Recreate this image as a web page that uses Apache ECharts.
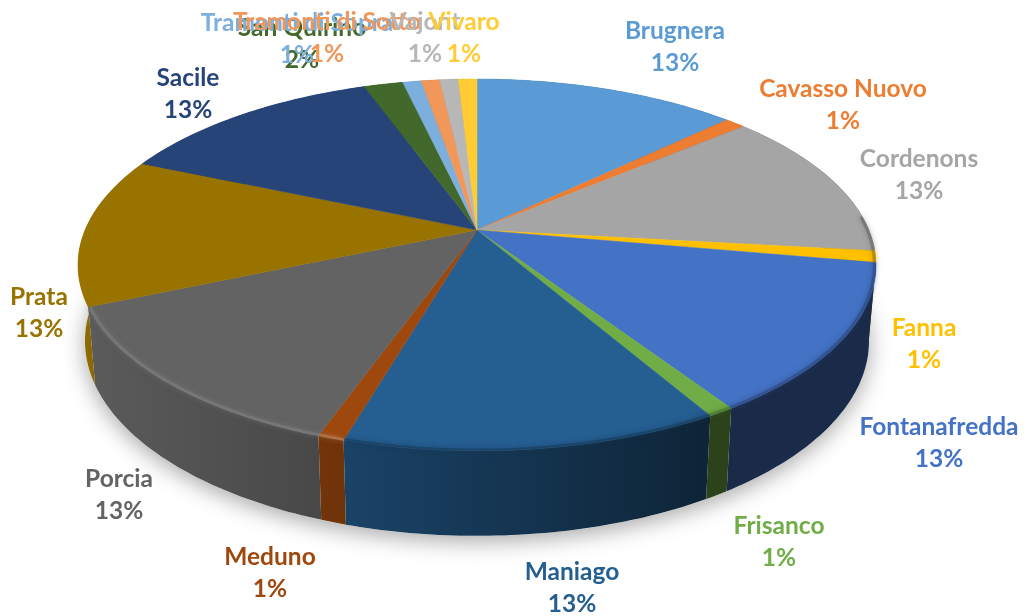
<!DOCTYPE html>
<html>
<head>
<meta charset="utf-8">
<style>
  html, body { margin: 0; padding: 0; background: #fff; }
  #chart { width: 1027px; height: 616px; }
</style>
<script src="https://cdn.jsdelivr.net/npm/echarts@6/dist/echarts.min.js"></script>
</head>
<body>
<div id="chart"></div>
<script>
const names = ['Brugnera', 'Cavasso Nuovo', 'Cordenons', 'Fanna', 'Fontanafredda', 'Frisanco', 'Maniago', 'Meduno',
  'Porcia', 'Prata', 'Sacile', 'San Quirino', 'Tramonti di Sopra', 'Tramonti di Sotto', 'Vajont', 'Vivaro'];
const shares = [12.8, 1, 13, 1, 13, 0.9, 12.8, 0.9, 13.1, 13, 13, 1.9, 0.9, 0.9, 0.9, 0.9];
const colors = ['#5B9BD5', '#ED7D31', '#A5A5A5', '#FFC000', '#4472C4', '#70AD47', '#255E91', '#9E480E',
  '#636363', '#997300', '#264478', '#43682B', '#7CAFDD', '#F1975A', '#B7B7B7', '#FFCD33'];

// label centres, they sit where the original put them (overlaps included)
const labelSpots = [[675, 47], [843, 105], [919, 175], [924, 344], [939, 443], [779, 542], [572, 588], [270, 573],
  [119, 495], [39, 313], [188, 94], [302, 44], [297, 39], [327, 38], [425, 38], [464, 38]];

// the disc in perspective: ellipse + pivot pushed up from the ellipse centre
const pivot = [477, 230];
const top3d = { cy: 265, ry: 186, rx: 399 };
const foot = { cy: 341, ry: 195, rx: 392 };
const persp = -0.188, vGain = 136.1, uGain = 391.9;

const total = shares.reduce((a, b) => a + b, 0);
const starts = [];
shares.reduce((sum, v, i) => { starts[i] = sum; return sum + v; }, 0);

function rim(frac) {
  const a = frac * Math.PI * 2;
  const u = Math.sin(a), v = -Math.cos(a);
  const d = 1 + persp * v;
  return [pivot[0] + uGain * u / d, (vGain * v + pivot[1]) / d];
}
function toFoot(p) {
  return [pivot[0] + (p[0] - pivot[0]) * foot.rx / top3d.rx, foot.cy + (p[1] - top3d.cy) * foot.ry / top3d.ry];
}
function inset(p, k) {
  return [pivot[0] + (p[0] - pivot[0]) * k, top3d.cy + (p[1] - top3d.cy) * k];
}
function arc(i) {
  const pts = [];
  const steps = Math.max(4, Math.ceil(shares[i] * 4));
  for (let s = 0; s <= steps; s++) {
    pts.push(rim((starts[i] + shares[i] * s / steps) / total));
  }
  return pts;
}
function mix(hex, k, to) {
  const n = parseInt(hex.slice(1), 16);
  const t = to || 0;
  const c = [n >> 16, (n >> 8) & 255, n & 255].map(x => Math.round(x * k + t * (1 - k)));
  return 'rgb(' + c.join(',') + ')';
}
// side wall gets darker from left to right
function wallShade(x) {
  if (x < 330) return 0.92 - (x - 90) / 240 * 0.2;
  if (x < 700) return 0.72 - (x - 330) / 370 * 0.34;
  return 0.38;
}

function renderWall(params) {
  const i = params.dataIndex;
  const pts = arc(i);
  const low = pts.map(toFoot).reverse();
  const xs = pts.concat(low).map(p => p[0]);
  const x0 = Math.min.apply(null, xs), x1 = Math.max.apply(null, xs);
  const midY = pts[Math.floor(pts.length / 2)][1];
  return {
    type: 'polygon',
    z2: Math.round(midY),
    shape: { points: pts.concat(low) },
    style: {
      fill: {
        type: 'linear', x: 0, y: 0, x2: 1, y2: 0,
        colorStops: [
          { offset: 0, color: mix(colors[i], wallShade(x0)) },
          { offset: 1, color: mix(colors[i], wallShade(x1)) }
        ]
      }
    }
  };
}

function renderTop(params) {
  const i = params.dataIndex;
  return {
    type: 'polygon',
    shape: { points: [pivot].concat(arc(i)) },
    style: { fill: colors[i], stroke: colors[i], lineWidth: 0.5 }
  };
}

// soft bevel on the front of the rim only, pale on the left, dark on the right
function renderBevel(params) {
  const i = params.dataIndex;
  const pts = arc(i).filter(p => p[1] > (p[0] > pivot[0] ? 215 : 305)).map(p => inset(p, 0.996));
  if (pts.length < 2) return null;
  const mx = pts[Math.floor(pts.length / 2)][0];
  const pale = mx < 520;
  const amount = pale ? 0.75 - Math.max(0, mx - 200) / 320 * 0.4 : 0.6;
  const c = pale ? mix(colors[i], amount, 215) : mix(colors[i], amount);
  return {
    type: 'polyline',
    shape: { points: pts },
    style: { fill: null, stroke: c, opacity: 0.55, lineWidth: 3, shadowBlur: 5, shadowColor: c }
  };
}

function renderLabel(params) {
  const i = params.dataIndex;
  return {
    type: 'text',
    style: {
      x: labelSpots[i][0], y: labelSpots[i][1],
      text: names[i] + '\n' + Math.round(shares[i] / total * 100) + '%',
      fill: colors[i], align: 'center', verticalAlign: 'middle',
      fontFamily: 'Lato', fontWeight: 700, fontSize: 24.5, lineHeight: 32
    }
  };
}

function renderShadow() {
  const pts = [];
  for (let d = 0; d < 360; d += 2) {
    const a = d * Math.PI / 180;
    pts.push([pivot[0] + foot.rx * Math.cos(a), foot.cy + foot.ry * Math.sin(a)]);
  }
  return {
    type: 'polygon',
    shape: { points: pts },
    style: { fill: '#fff', shadowBlur: 22, shadowColor: 'rgba(0,0,0,0.35)', shadowOffsetY: 5 }
  };
}

const rows = names.map((n, i) => ({ name: n, value: shares[i] }));
function layer(renderItem, z, data) {
  return { type: 'custom', coordinateSystem: 'none', renderItem, z, silent: true, animation: false, data: data || rows };
}

const myChart = echarts.init(document.getElementById('chart'));
myChart.setOption({
  animation: false,
  backgroundColor: '#fff',
  series: [
    layer(renderShadow, 1, [{ name: 'shadow', value: 1 }]),
    layer(renderWall, 2),
    layer(renderTop, 3),
    layer(renderBevel, 4),
    layer(renderLabel, 5)
  ]
});
</script>
</body>
</html>
